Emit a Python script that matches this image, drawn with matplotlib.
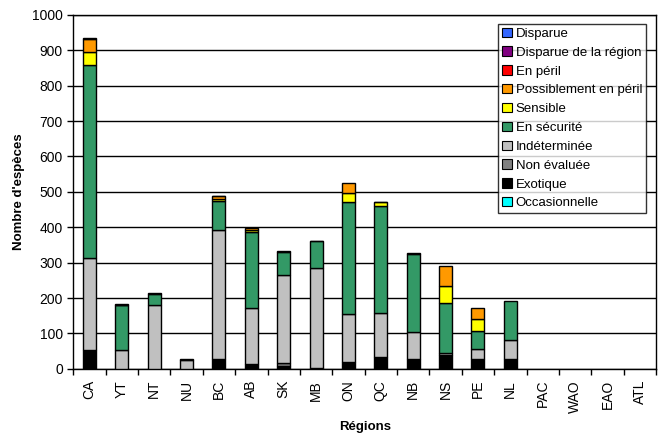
import matplotlib
matplotlib.use('Agg')
import matplotlib.pyplot as plt
import matplotlib.patches as mpatches
import numpy as np

plt.rcParams['font.family'] = ['Liberation Sans', 'DejaVu Sans']

regions = ['CA', 'YT', 'NT', 'NU', 'BC', 'AB', 'SK', 'MB', 'ON', 'QC',
           'NB', 'NS', 'PE', 'NL', 'PAC', 'WAO', 'EAO', 'ATL']

# stacked from bottom to top
occasionnelle = [0, 0, 0, 0, 0, 0, 0, 0, 0, 0, 0, 0, 0, 0, 0, 0, 0, 0]
exotique = [54, 0, 0, 0, 28, 13, 7, 3, 20, 34, 28, 38, 28, 28, 0, 0, 0, 0]
non_evaluee = [0, 0, 0, 0, 0, 0, 9, 0, 0, 0, 0, 0, 0, 0, 0, 0, 0, 0]
indeterminee = [259, 53, 180, 25, 364, 158, 249, 281, 134, 123, 76, 7, 28, 53, 0, 0, 0, 0]
en_securite = [544, 127, 30, 0, 82, 215, 66, 76, 316, 304, 220, 140, 50, 110, 0, 0, 0, 0]
sensible = [38, 1, 0, 0, 6, 5, 0, 0, 28, 9, 0, 48, 34, 0, 0, 0, 0, 0]
possiblement = [37, 3, 0, 0, 7, 8, 0, 0, 27, 2, 0, 57, 31, 0, 0, 0, 0, 0]
en_peril = [2, 0, 4, 2, 2, 0, 2, 2, 0, 0, 2, 0, 0, 0, 0, 0, 0, 0]
disparue_region = [0, 0, 0, 0, 0, 0, 0, 0, 0, 0, 0, 0, 0, 0, 0, 0, 0, 0]
disparue = [0, 0, 0, 0, 0, 0, 0, 0, 0, 0, 0, 0, 0, 0, 0, 0, 0, 0]

series = [
    ('Occasionnelle', occasionnelle, '#00FFFF'),
    ('Exotique', exotique, '#000000'),
    ('Non évaluée', non_evaluee, '#808080'),
    ('Indéterminée', indeterminee, '#C0C0C0'),
    ('En sécurité', en_securite, '#339966'),
    ('Sensible', sensible, '#FFFF00'),
    ('Possiblement en péril', possiblement, '#FF9900'),
    ('En péril', en_peril, '#FF0000'),
    ('Disparue de la région', disparue_region, '#800080'),
    ('Disparue', disparue, '#3366FF'),
]

fig = plt.figure(figsize=(6.66, 4.37), dpi=100)
ax = fig.add_axes([0.110, 0.156, 0.875, 0.810])

x = np.arange(len(regions))
bottom = np.zeros(len(regions))
for name, vals, col in series:
    vals = np.array(vals, dtype=float)
    keep = vals > 0  # zero-height bars would still show an edge line
    if keep.any():
        ax.bar(x[keep], vals[keep], width=0.4, bottom=bottom[keep], color=col,
               edgecolor='black', linewidth=1.0, zorder=3)
    bottom += vals

ax.set_xlim(-0.5, len(regions) - 0.5)
ax.set_ylim(0, 1000)
ax.set_yticks(np.arange(0, 1001, 100))
ax.yaxis.grid(True, color='black', linewidth=1.0)
ax.set_axisbelow(True)

ax.set_xticks(x)
ax.set_xticklabels(regions, rotation=90, fontsize=10)
ax.set_xticks(np.arange(-0.5, len(regions), 1), minor=True)
ax.tick_params(axis='x', which='major', length=0, pad=8)
ax.tick_params(axis='x', which='minor', length=4, width=1, direction='out')
ax.tick_params(axis='y', length=4, width=1, direction='out', labelsize=10)

for s in ax.spines.values():
    s.set_color('black')
    s.set_linewidth(1.0)

ax.set_xlabel('Régions', fontsize=9.5, fontweight='bold', labelpad=6)
ax.set_ylabel("Nombre d'espèces", fontsize=9.5, fontweight='bold', labelpad=5)

handles = [mpatches.Patch(facecolor=col, edgecolor='black', linewidth=0.8, label=name)
           for name, vals, col in series[::-1]]
leg = ax.legend(handles=handles, loc='upper right', bbox_to_anchor=(0.983, 0.975),
                fontsize=9.5, frameon=True, fancybox=False, edgecolor='black',
                handlelength=0.7, handleheight=0.7, handletextpad=0.3,
                labelspacing=0.5, borderpad=0.3, borderaxespad=0)
leg.get_frame().set_linewidth(1.0)
leg.set_zorder(5)

fig.savefig('out.png', dpi=100)
